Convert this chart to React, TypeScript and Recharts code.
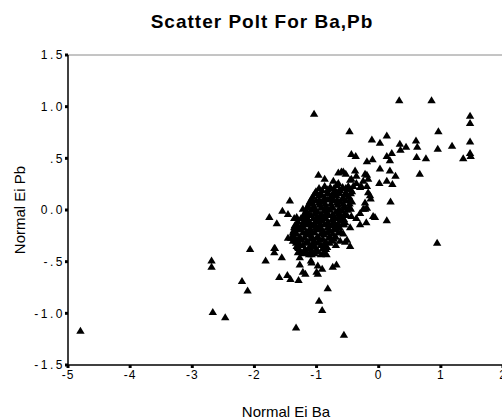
import React from 'react';
import {
  ScatterChart,
  Scatter,
  XAxis,
  YAxis,
  ReferenceLine,
} from 'recharts';

// Axis ticks and their printed labels
const baTicks = [-5, -4, -3, -2, -1, 0, 1, 2];
const baTickLabels = ['-5', '-4', '-3', '-2', '-1', '0', '1', '2'];
const pbTicks = [-1.5, -1, -0.5, 0, 0.5, 1, 1.5];
const pbTickLabels = ['-1.5', '-1.0', '-.5', '0.0', '.5', '1.0', '1.5'];

// [Normal Ei Ba, Normal Ei Pb] pairs
const farOutliers: [number, number][] = [
  [-4.8, -1.17], [-2.69, -0.49], [-2.69, -0.55], [-2.67, -0.99], [-2.47, -1.04],
  [-2.2, -0.69], [-2.11, -0.78], [-2.07, -0.38], [-1.04, 0.93], [0.94, -0.32],
  [-1.33, -1.14], [-0.56, -1.21], [-0.96, -0.88], [-0.91, -0.97], [-0.82, -0.76],
];

const upperArm: [number, number][] = [
  [0.33, 1.06], [0.85, 1.06], [1.47, 0.91], [1.47, 0.84], [-0.47, 0.76], [0.96, 0.76],
  [-0.11, 0.68], [0.02, 0.65], [0.13, 0.72], [0.34, 0.64], [0.44, 0.61], [0.6, 0.67],
  [0.62, 0.61], [0.35, 0.58], [0.95, 0.59], [1.18, 0.62], [1.47, 0.66], [1.47, 0.55],
  [1.36, 0.5], [1.48, 0.52], [0.61, 0.51], [0.76, 0.5], [-0.44, 0.54], [-0.37, 0.52],
  [-0.19, 0.47], [-0.1, 0.49], [0.13, 0.52], [0.21, 0.55], [0.18, 0.48], [0.02, 0.4],
  [0.18, 0.38], [0.27, 0.33], [0.13, 0.28], [0.01, 0.26], [0.22, 0.25], [0.66, 0.35],
  [0.19, 0.08], [-0.06, -0.07], [0.13, -0.1],
];

const clusterRim: [number, number][] = [
  [-0.97, 0.34], [-0.87, 0.3], [-0.6, 0.37], [-0.53, 0.35], [-0.38, 0.38], [-0.36, 0.33],
  [-0.19, 0.34], [-0.25, 0.28], [-0.73, 0.28], [-0.65, 0.26], [-0.46, 0.29], [-0.57, 0.37],
  [-0.22, 0.35], [-0.17, 0.3], [-0.44, 0.3], [-0.36, 0.26], [-0.65, 0.36], [-0.28, 0.23],
  [-0.41, 0.23], [-0.3, 0.22], [-0.19, 0.23], [-0.17, 0.17], [-0.13, 0.11], [-0.14, 0.14],
  [-0.22, 0.07], [-0.19, 0.02], [-0.25, 0.01], [-0.3, -0.03], [-0.22, 0.01], [-0.09, -0.06],
  [-0.36, -0.08], [-0.2, -0.12], [-0.3, -0.14], [-0.44, -0.06], [-0.46, -0.17],
  [-0.57, -0.23], [-0.51, -0.29], [-0.46, -0.35], [-0.62, -0.3], [-0.69, -0.34],
  [-0.54, -0.31], [-0.84, -0.43], [-0.84, -0.36],
  [-1.43, 0.09], [-1.22, 0.01], [-1.46, -0.04], [-1.32, -0.07], [-1.55, -0.01],
  [-1.36, -0.08], [-1.76, -0.07], [-1.64, -0.13], [-1.2, -0.04], [-1.16, -0.07],
  [-1.3, -0.17], [-1.4, -0.27], [-1.38, -0.3], [-1.46, -0.27], [-1.68, -0.37],
  [-1.68, -0.41], [-1.82, -0.49], [-1.56, -0.46], [-1.3, -0.36], [-1.3, -0.41],
  [-1.27, -0.46],
];

const lowerTail: [number, number][] = [
  [-1.27, -0.53], [-1.09, -0.49], [-1.08, -0.43], [-0.98, -0.54], [-0.91, -0.57],
  [-1.18, -0.62], [-0.98, -0.62], [-1.47, -0.63], [-1.29, -0.68], [-0.68, -0.53],
  [-0.74, -0.55], [-1.6, -0.65], [-1.42, -0.67], [-1.08, -0.51], [-1.0, -0.6],
  [-1.22, -0.6], [-1.67, -0.37], [-1.41, -0.27],
];

const clusterCore: [number, number][] = [
  [-0.87, 0.23], [-0.78, 0.22], [-0.68, 0.24], [-0.58, 0.22], [-0.49, 0.23],
  [-1.01, 0.18], [-0.91, 0.19], [-0.82, 0.17], [-0.72, 0.18], [-0.62, 0.19], [-0.53, 0.17], [-0.43, 0.18],
  [-1.06, 0.13], [-0.96, 0.14], [-0.87, 0.12], [-0.77, 0.13], [-0.68, 0.14], [-0.58, 0.12], [-0.48, 0.13],
  [-1.11, 0.08], [-1.01, 0.09], [-0.91, 0.08], [-0.82, 0.1], [-0.72, 0.09], [-0.62, 0.08], [-0.53, 0.09], [-0.43, 0.08],
  [-1.14, 0.04], [-1.04, 0.03], [-0.95, 0.05], [-0.85, 0.04], [-0.75, 0.03], [-0.66, 0.05], [-0.56, 0.04], [-0.47, 0.03],
  [-1.17, -0.01], [-1.08, 0.0], [-0.98, -0.02], [-0.88, -0.01], [-0.79, 0.0], [-0.69, -0.02], [-0.59, -0.01], [-0.5, 0.0],
  [-1.19, -0.06], [-1.09, -0.05], [-1.0, -0.07], [-0.9, -0.06], [-0.8, -0.05], [-0.71, -0.07], [-0.61, -0.06], [-0.51, -0.05],
  [-1.3, -0.11], [-1.2, -0.1], [-1.11, -0.12], [-1.01, -0.11], [-0.91, -0.1], [-0.82, -0.12], [-0.72, -0.11], [-0.62, -0.1], [-0.54, -0.12],
  [-1.35, -0.15], [-1.25, -0.16], [-1.16, -0.14], [-1.06, -0.15], [-0.96, -0.16], [-0.87, -0.14], [-0.77, -0.15], [-0.68, -0.16], [-0.58, -0.14],
  [-1.37, -0.2], [-1.27, -0.19], [-1.17, -0.21], [-1.08, -0.2], [-0.98, -0.19], [-0.88, -0.21], [-0.79, -0.2], [-0.69, -0.19], [-0.61, -0.21],
  [-1.37, -0.25], [-1.27, -0.26], [-1.17, -0.24], [-1.08, -0.25], [-0.98, -0.26], [-0.88, -0.24], [-0.79, -0.25], [-0.69, -0.26],
  [-1.33, -0.3], [-1.24, -0.29], [-1.14, -0.31], [-1.04, -0.3], [-0.95, -0.29], [-0.85, -0.31], [-0.75, -0.3],
  [-1.32, -0.35], [-1.22, -0.34], [-1.12, -0.36], [-1.03, -0.35], [-0.93, -0.34], [-0.83, -0.36],
  [-1.27, -0.4], [-1.17, -0.41], [-1.08, -0.39], [-0.98, -0.4], [-0.88, -0.41],
];

const clusterDense: [number, number][] = [
  [-0.96, 0.21], [-0.82, 0.2], [-0.72, 0.21], [-0.63, 0.2], [-0.53, 0.21], [-0.45, 0.2],
  [-1.03, 0.16], [-0.92, 0.15], [-0.82, 0.16], [-0.72, 0.15], [-0.63, 0.16], [-0.53, 0.15], [-0.45, 0.16],
  [-1.08, 0.11], [-0.96, 0.1], [-0.86, 0.11], [-0.77, 0.11], [-0.67, 0.1], [-0.57, 0.11], [-0.47, 0.1],
  [-1.12, 0.06], [-1.06, 0.06], [-0.96, 0.07], [-0.86, 0.06], [-0.77, 0.06], [-0.67, 0.07], [-0.57, 0.06], [-0.47, 0.06],
  [-1.15, 0.02], [-1.03, 0.01], [-0.93, 0.02], [-0.84, 0.01], [-0.74, 0.02], [-0.64, 0.01], [-0.54, 0.02], [-0.45, 0.01],
  [-1.18, -0.03], [-1.13, -0.04], [-1.03, -0.03], [-0.93, -0.04], [-0.84, -0.03], [-0.74, -0.04], [-0.64, -0.03], [-0.55, -0.04],
  [-1.25, -0.08], [-1.14, -0.09], [-1.05, -0.08], [-0.95, -0.09], [-0.85, -0.08], [-0.75, -0.09], [-0.66, -0.08], [-0.56, -0.09],
  [-1.32, -0.13], [-1.22, -0.13], [-1.13, -0.14], [-1.04, -0.13], [-0.94, -0.13], [-0.84, -0.14], [-0.74, -0.13], [-0.65, -0.13], [-0.56, -0.14],
  [-1.36, -0.17], [-1.3, -0.18], [-1.21, -0.17], [-1.11, -0.18], [-1.01, -0.17], [-0.92, -0.18], [-0.82, -0.17], [-0.72, -0.18], [-0.63, -0.17],
  [-1.38, -0.22], [-1.32, -0.23], [-1.22, -0.22], [-1.12, -0.23], [-1.03, -0.22], [-0.93, -0.23], [-0.83, -0.22], [-0.74, -0.23], [-0.65, -0.22],
  [-1.35, -0.27], [-1.29, -0.28], [-1.19, -0.27], [-1.09, -0.28], [-1.0, -0.27], [-0.9, -0.28], [-0.8, -0.27], [-0.72, -0.28],
  [-1.33, -0.32], [-1.27, -0.33], [-1.17, -0.32], [-1.07, -0.33], [-0.98, -0.32], [-0.88, -0.33], [-0.79, -0.32],
  [-1.29, -0.37], [-1.19, -0.38], [-1.1, -0.37], [-1.0, -0.38], [-0.9, -0.37], [-0.85, -0.38],
  [-1.22, -0.42], [-1.12, -0.43], [-1.03, -0.42], [-0.93, -0.43],
];

const points = [
  ...farOutliers,
  ...upperArm,
  ...clusterRim,
  ...lowerTail,
  ...clusterCore,
  ...clusterDense,
].map(([ba, pb]) => ({ ba, pb }));

const FONT = 'Arial, "Liberation Sans", sans-serif';

const fmtBa = (v: number) => baTickLabels[baTicks.indexOf(v)] ?? String(v);
const fmtPb = (v: number) => pbTickLabels[pbTicks.indexOf(v)] ?? String(v);

// Small filled triangle marker centred on the point
const TriangleMarker = (props: any) => {
  const { cx, cy } = props;
  if (cx == null || cy == null) return null;
  return (
    <path
      d={`M${cx},${cy - 4.2}L${cx + 4.2},${cy + 2.8}L${cx - 4.2},${cy + 2.8}Z`}
      fill="#000"
    />
  );
};

export default function App() {
  return (
    <div
      style={{
        position: 'absolute',
        left: 0,
        top: 0,
        width: 502,
        height: 420,
        overflow: 'hidden',
        background: '#fff',
      }}
    >
      <ScatterChart width={520} height={420} margin={{ top: 55, right: 17, bottom: 5, left: 0 }}>
        <XAxis
          type="number"
          dataKey="ba"
          domain={[-5, 2]}
          ticks={baTicks}
          tickFormatter={fmtBa}
          allowDataOverflow
          height={50}
          tickSize={3}
          tickMargin={2}
          axisLine={{ stroke: '#000', strokeWidth: 1.5 }}
          tickLine={{ stroke: '#000', strokeWidth: 3 }}
          tick={{ fill: '#000', fontSize: 12, fontFamily: FONT, letterSpacing: 1 }}
        />
        <YAxis
          type="number"
          dataKey="pb"
          domain={[-1.5, 1.5]}
          ticks={pbTicks}
          tickFormatter={fmtPb}
          allowDataOverflow
          width={68}
          tickSize={3}
          tickMargin={0}
          axisLine={{ stroke: '#000', strokeWidth: 1.5 }}
          tickLine={{ stroke: '#000', strokeWidth: 3 }}
          tick={{ fill: '#000', fontSize: 12, fontFamily: FONT, letterSpacing: 2.5 }}
        />
        <ReferenceLine y={1.5} stroke="#8a8a8a" strokeWidth={1} />
        <Scatter
          data={points}
          shape={TriangleMarker}
          fill="#000"
          isAnimationActive={false}
        />
        <text
          x={262}
          y={28}
          textAnchor="middle"
          fontFamily={FONT}
          fontWeight="bold"
          fontSize={19}
          letterSpacing={1}
          fill="#000"
        >
          Scatter Polt For Ba,Pb
        </text>
        <text
          x={286}
          y={417}
          textAnchor="middle"
          fontFamily={FONT}
          fontSize={15}
          fill="#000"
        >
          Normal Ei Ba
        </text>
        <text
          transform="translate(25,210) rotate(-90)"
          x={0}
          y={0}
          textAnchor="middle"
          fontFamily={FONT}
          fontSize={15}
          fill="#000"
        >
          Normal Ei Pb
        </text>
      </ScatterChart>
    </div>
  );
}
